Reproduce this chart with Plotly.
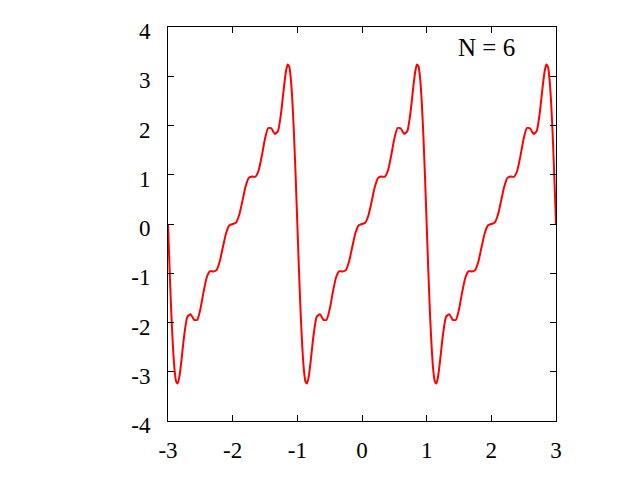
import plotly.graph_objects as go

# Values (partial sum curve, N = 6)
x_vals = [
    -3.0, -2.975, -2.95, -2.925, -2.9, -2.875, -2.85, -2.825, -2.8, -2.775, -2.75,
    -2.7, -2.65, -2.6, -2.55, -2.5, -2.45, -2.4, -2.35, -2.3, -2.25, -2.2, -2.15,
    -2.1, -2.05, -2.0, -1.95, -1.9, -1.85, -1.8, -1.75, -1.7, -1.65, -1.6, -1.55,
    -1.5, -1.45, -1.4, -1.35, -1.3, -1.25, -1.225, -1.2, -1.175, -1.15, -1.125,
    -1.1, -1.075, -1.05, -1.025,
    -1.0, -0.975, -0.95, -0.925, -0.9, -0.875, -0.85, -0.825, -0.8, -0.775, -0.75,
    -0.7, -0.65, -0.6, -0.55, -0.5, -0.45, -0.4, -0.35, -0.3, -0.25, -0.2, -0.15,
    -0.1, -0.05, 0.0, 0.05, 0.1, 0.15, 0.2, 0.25, 0.3, 0.35, 0.4, 0.45,
    0.5, 0.55, 0.6, 0.65, 0.7, 0.75, 0.775, 0.8, 0.825, 0.85, 0.875,
    0.9, 0.925, 0.95, 0.975,
    1.0, 1.025, 1.05, 1.075, 1.1, 1.125, 1.15, 1.175, 1.2, 1.225, 1.25,
    1.3, 1.35, 1.4, 1.45, 1.5, 1.55, 1.6, 1.65, 1.7, 1.75, 1.8, 1.85,
    1.9, 1.95, 2.0, 2.05, 2.1, 2.15, 2.2, 2.25, 2.3, 2.35, 2.4, 2.45,
    2.5, 2.55, 2.6, 2.65, 2.7, 2.75, 2.775, 2.8, 2.825, 2.85, 2.875,
    2.9, 2.925, 2.95, 2.975, 3.0,
]
y_vals = [
    0.0, -0.928, -1.771, -2.457, -2.938, -3.194, -3.237, -3.106, -2.859, -2.560, -2.269,
    -1.885, -1.831, -1.940, -1.949, -1.733, -1.379, -1.081, -0.958, -0.963, -0.936, -0.761, -0.462,
    -0.177, -0.026, 0.0, 0.026, 0.177, 0.462, 0.761, 0.936, 0.963, 0.958, 1.081, 1.379,
    1.733, 1.949, 1.940, 1.831, 1.885, 2.269, 2.560, 2.859, 3.106, 3.237, 3.194,
    2.938, 2.457, 1.771, 0.928,
    0.0, -0.928, -1.771, -2.457, -2.938, -3.194, -3.237, -3.106, -2.859, -2.560, -2.269,
    -1.885, -1.831, -1.940, -1.949, -1.733, -1.379, -1.081, -0.958, -0.963, -0.936, -0.761, -0.462,
    -0.177, -0.026, 0.0, 0.026, 0.177, 0.462, 0.761, 0.936, 0.963, 0.958, 1.081, 1.379,
    1.733, 1.949, 1.940, 1.831, 1.885, 2.269, 2.560, 2.859, 3.106, 3.237, 3.194,
    2.938, 2.457, 1.771, 0.928,
    0.0, -0.928, -1.771, -2.457, -2.938, -3.194, -3.237, -3.106, -2.859, -2.560, -2.269,
    -1.885, -1.831, -1.940, -1.949, -1.733, -1.379, -1.081, -0.958, -0.963, -0.936, -0.761, -0.462,
    -0.177, -0.026, 0.0, 0.026, 0.177, 0.462, 0.761, 0.936, 0.963, 0.958, 1.081, 1.379,
    1.733, 1.949, 1.940, 1.831, 1.885, 2.269, 2.560, 2.859, 3.106, 3.237, 3.194,
    2.938, 2.457, 1.771, 0.928, 0.0,
]

x_ticks = [-3, -2, -1, 0, 1, 2, 3]
y_ticks = [-4, -3, -2, -1, 0, 1, 2, 3, 4]
label_text = "N = 6"

FONT = "Liberation Serif, Times New Roman, serif"

fig = go.Figure()
fig.add_trace(go.Scatter(
    x=x_vals, y=y_vals, mode="lines",
    line=dict(color="#ff0000", width=2, shape="spline", smoothing=0.6),
    showlegend=False, hoverinfo="skip",
))

axis_common = dict(
    showgrid=False, zeroline=False, showline=True, mirror="allticks",
    linecolor="black", linewidth=1, ticks="inside", ticklen=6,
    tickcolor="black", tickwidth=1,
    tickfont=dict(family=FONT, size=23, color="black"),
)

fig.update_layout(
    width=640, height=480,
    margin=dict(l=160, r=92, t=19, b=67),
    paper_bgcolor="white", plot_bgcolor="white",
    xaxis=dict(range=[-3, 3], tickvals=x_ticks, ticktext=[str(v) for v in x_ticks],
               ticklabelstandoff=8, **axis_common),
    yaxis=dict(range=[-4, 4], tickvals=y_ticks, ticktext=[str(v) for v in y_ticks],
               ticklabelstandoff=12, ticklabelshift=4, **axis_common),
    annotations=[dict(
        text=label_text, xref="paper", yref="paper", x=0.8995, y=0.949,
        xanchor="right", yanchor="middle", showarrow=False,
        font=dict(family=FONT, size=25, color="black"),
    )],
)

fig.write_html("out.html")
